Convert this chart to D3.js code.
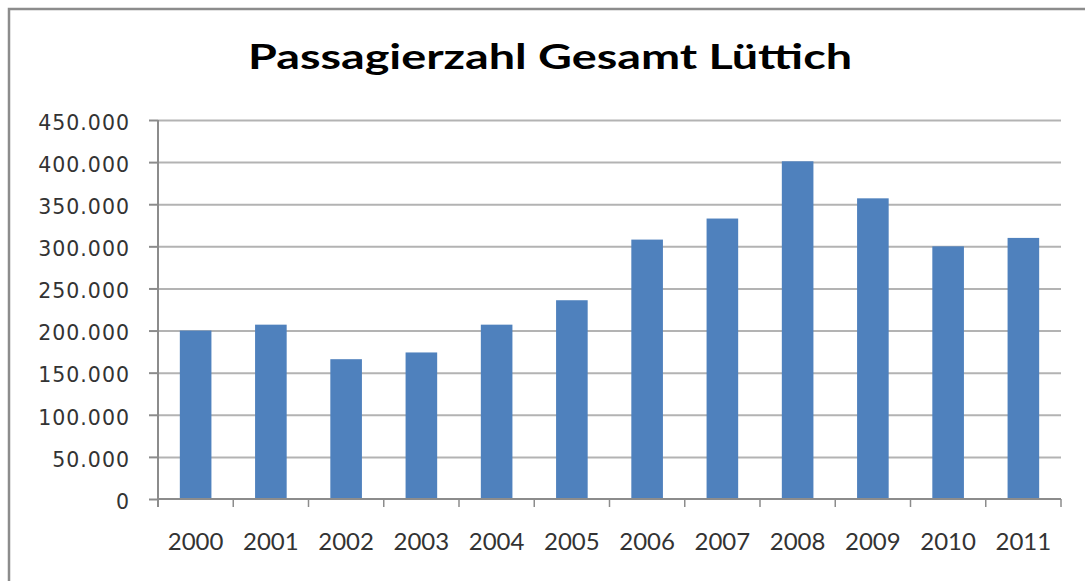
<!DOCTYPE html>
<html>
<head>
<meta charset="utf-8">
<script src="https://cdn.jsdelivr.net/npm/d3@7"></script>
<style>
  body { margin: 0; background: #fff; }
  svg { display: block; }
</style>
</head>
<body>
<svg width="1085" height="581"></svg>
<script>
// data
var years = ["2000", "2001", "2002", "2003", "2004", "2005", "2006", "2007", "2008", "2009", "2010", "2011"];
var passengers = [200000, 207000, 166000, 174000, 207000, 236000, 308000, 333000, 401000, 357000, 300000, 310000];
var yTicks = [0, 50000, 100000, 150000, 200000, 250000, 300000, 350000, 400000, 450000];
var title = "Passagierzahl Gesamt Lüttich";

var svg = d3.select("svg"),
    margin = {top: 120, right: 24, bottom: 82, left: 158},
    width = 1085 - margin.left - margin.right,
    height = 581 - margin.top - margin.bottom;

// outer frame (only top and left edge visible)
svg.append("rect")
    .attr("x", 9).attr("y", 9)
    .attr("width", 1100).attr("height", 600)
    .attr("fill", "#fff")
    .attr("stroke", "#8c8c8c")
    .attr("stroke-width", 2.5);

svg.append("text")
    .attr("x", 550)
    .attr("y", 69)
    .attr("text-anchor", "middle")
    .attr("font-family", "Lato, 'Open Sans', sans-serif")
    .attr("font-weight", "bold")
    .attr("font-size", "35px")
    .attr("textLength", 604)
    .attr("lengthAdjust", "spacingAndGlyphs")
    .attr("fill", "#000")
    .text(title);

var g = svg.append("g").attr("transform", "translate(" + margin.left + "," + margin.top + ")");

var x = d3.scaleBand().domain(years).range([0, width]).paddingInner(0.58).paddingOuter(0.29);
var xTicks = d3.scaleBand().domain(years).range([0, width]);
var y = d3.scaleLinear().domain([0, 450000]).range([height, 0]);

var fmt = function(d) { return d === 0 ? "0" : d3.format(",")(d).replace(/,/g, "."); };

// gridlines
g.append("g")
    .attr("class", "grid")
    .call(d3.axisLeft(y).tickValues(yTicks.slice(1)).tickSize(-width).tickFormat(""))
    .call(function(s) {
        s.select(".domain").remove();
        s.selectAll("line").attr("stroke", "#b3b3b3").attr("stroke-width", 2);
    });

// bars
g.selectAll(".bar")
    .data(passengers)
    .enter().append("rect")
    .attr("class", "bar")
    .attr("x", function(d, i) { return x(years[i]); })
    .attr("y", function(d) { return y(d); })
    .attr("width", x.bandwidth())
    .attr("height", function(d) { return height - y(d); })
    .attr("fill", "#4f81bd");

// y axis
g.append("g")
    .call(d3.axisLeft(y).tickValues(yTicks).tickSize(9).tickPadding(19).tickFormat(fmt))
    .call(function(s) {
        s.select(".domain").attr("stroke", "#8c8c8c").attr("stroke-width", 2).attr("d", "M0," + (height + 8) + "V0");
        s.selectAll("line").attr("stroke", "#8c8c8c").attr("stroke-width", 2);
        s.selectAll("text")
            .attr("font-family", "'DejaVu Sans', Verdana, sans-serif")
            .attr("font-size", "20.5px")
            .attr("letter-spacing", "1px")
            .attr("dy", "0.45em")
            .attr("fill", "#333");
    });

// x axis
var xAxis = g.append("g").attr("transform", "translate(0," + height + ")");
xAxis.append("path")
    .attr("d", "M0,0H" + width)
    .attr("stroke", "#8c8c8c").attr("stroke-width", 2);
xAxis.selectAll(".tick")
    .data(years.concat(["end"]))
    .enter().append("line")
    .attr("x1", function(d, i) { return i * xTicks.step(); })
    .attr("x2", function(d, i) { return i * xTicks.step(); })
    .attr("y1", 0).attr("y2", 8)
    .attr("stroke", "#8c8c8c").attr("stroke-width", 1.5);
xAxis.selectAll(".lbl")
    .data(years)
    .enter().append("text")
    .attr("x", function(d) { return xTicks(d) + xTicks.bandwidth() / 2; })
    .attr("y", 51)
    .attr("text-anchor", "middle")
    .attr("font-family", "Lato, 'Open Sans', sans-serif")
    .attr("font-size", "24px")
    .attr("fill", "#333")
    .text(function(d) { return d; });
</script>
</body>
</html>
